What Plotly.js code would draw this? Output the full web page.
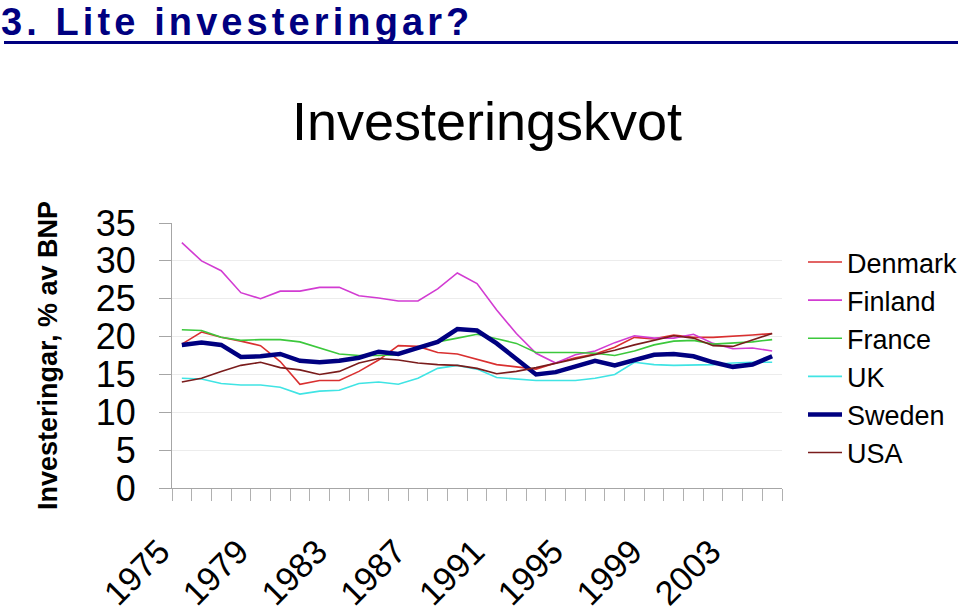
<!DOCTYPE html>
<html><head><meta charset="utf-8">
<script src="https://cdn.plot.ly/plotly-3.0.1.min.js"></script>
<style>html,body{margin:0;padding:0;background:#fff;} #chart{width:960px;height:616px;} .annotation-text{letter-spacing:4.1px;}</style>
</head><body><div id="chart"></div>
<script>
const years = [1975,1976,1977,1978,1979,1980,1981,1982,1983,1984,1985,1986,1987,1988,1989,1990,1991,1992,1993,1994,1995,1996,1997,1998,1999,2000,2001,2002,2003,2004,2005];
const labelYears = [1975,1979,1983,1987,1991,1995,1999,2003];
const denmark = [19.0,20.6,19.9,19.4,18.8,16.7,13.7,14.2,14.2,15.4,16.9,18.8,18.7,17.9,17.7,17.0,16.3,16.0,15.7,16.5,17.2,17.7,18.6,19.9,19.7,20.2,19.9,19.9,20.0,20.2,20.4];
const finland = [32.4,30.0,28.7,25.8,25.0,26.0,26.0,26.5,26.5,25.4,25.1,24.7,24.7,26.3,28.4,27.0,23.5,20.4,17.8,16.5,17.6,18.1,19.2,20.1,19.8,19.8,20.3,19.1,18.4,18.5,18.1];
const france = [20.9,20.8,19.9,19.5,19.6,19.6,19.3,18.5,17.7,17.5,17.5,17.6,18.5,19.3,19.8,20.3,19.7,19.1,17.9,17.9,17.9,17.8,17.5,18.1,18.9,19.4,19.5,19.0,19.2,19.3,19.6];
const uk = [14.5,14.4,13.8,13.6,13.6,13.3,12.4,12.8,12.9,13.8,14.0,13.7,14.5,15.8,16.2,15.7,14.6,14.4,14.2,14.2,14.2,14.5,15.0,16.6,16.3,16.2,16.2,16.3,16.5,16.6,16.6];
const sweden = [18.9,19.2,18.9,17.3,17.4,17.7,16.8,16.6,16.8,17.2,18.0,17.7,18.5,19.3,21.0,20.8,19.1,17.1,15.0,15.3,16.1,16.8,16.2,16.9,17.6,17.7,17.4,16.6,16.0,16.3,17.4];
const usa = [14.0,14.5,15.4,16.2,16.6,15.9,15.6,15.0,15.4,16.5,17.1,16.9,16.5,16.3,16.2,15.8,15.1,15.4,15.9,16.5,17.0,17.6,18.2,18.9,19.5,20.1,19.8,18.8,18.7,19.5,20.4];

const seriesNames = ['Denmark','Finland','France','UK','Sweden','USA'];
const seriesData = [denmark, finland, france, uk, sweden, usa];
const colors = ['#d93030','#d23cd2','#3cc83c','#40e4e4','#000080','#7a1c1c'];
const widths = [1.6,1.6,1.6,1.6,4.5,1.6];

const FONT = 'Liberation Sans, Arial, sans-serif';
const traces = seriesNames.map((n,i)=>({
  type:'scatter', mode:'lines', name:n, x:years, y:seriesData[i],
  line:{color:colors[i], width:widths[i]}
}));

const L=172, R=782, T=223, B=488;
const W=R-L, H=B-T;
const px = x => (x-L)/W;
const py = y => (B-y)/H;

const layout = {
  width:960, height:616,
  margin:{l:L, r:960-R, t:T, b:616-B, pad:0, autoexpand:false},
  paper_bgcolor:'#fff', plot_bgcolor:'#fff',
  font:{family:FONT, color:'#000'},
  showlegend:true,
  title:{text:'Investeringskvot', font:{size:54, family:FONT, color:'#000'},
    xref:'container', x:487/960, xanchor:'center', yref:'container', y:1-121/616, yanchor:'middle'},
  xaxis:{range:[1974.5,2005.5], tickmode:'array', tickvals:labelYears, ticktext:labelYears.map(String),
    ticks:'', showline:true, linecolor:'#a6a6a6', linewidth:1, showgrid:false, zeroline:false,
    tickangle:-45, tickfont:{size:34, family:FONT, color:'#000'}, ticklabelstandoff:29, ticklabelshift:-22,
    minor:{tick0:1974.5, dtick:1, ticks:'outside', ticklen:12, tickcolor:'#b0b0b0', tickwidth:1, showgrid:false}},
  yaxis:{range:[0,35], tick0:0, dtick:5, ticks:'outside', ticklen:12, tickcolor:'#a6a6a6', tickwidth:1,
    showline:true, linecolor:'#a6a6a6', linewidth:1, showgrid:true, gridcolor:'#ececec', zeroline:false,
    tickfont:{size:36, family:FONT, color:'#000'}, ticklabelstandoff:16,
    title:{text:'<b>Investeringar, % av BNP</b>', font:{size:27, family:FONT, color:'#000'}, standoff:30}},
  legend:{x:px(803), xanchor:'left', y:py(238), yanchor:'top', font:{size:27, family:FONT, color:'#000'},
    bgcolor:'rgba(0,0,0,0)', itemwidth:34, tracegroupgap:0},
  annotations:[{text:'<b>3. Lite investeringar?</b>', xref:'paper', yref:'paper', x:px(-1), y:py(22),
    xanchor:'left', yanchor:'middle', align:'left', showarrow:false,
    font:{size:38, family:FONT, color:'#000080'}}],
  shapes:[{type:'line', xref:'paper', yref:'paper', x0:px(4), x1:px(958), y0:py(42.5), y1:py(42.5),
    line:{color:'#000080', width:3}}]
};

Plotly.newPlot('chart', traces, layout, {displayModeBar:false, staticPlot:true});
</script></body></html>
